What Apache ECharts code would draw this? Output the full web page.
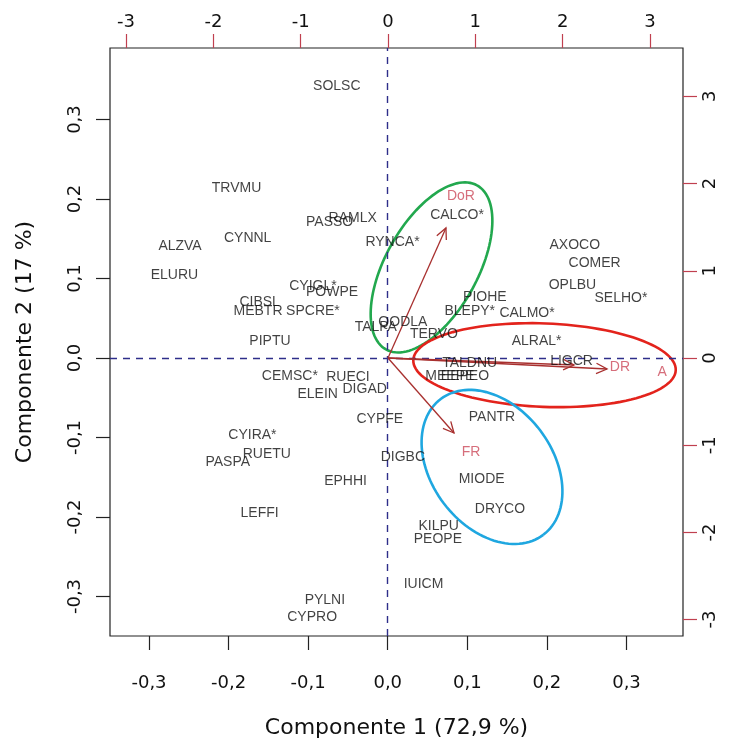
<!DOCTYPE html>
<html>
<head>
<meta charset="utf-8">
<script src="https://cdn.jsdelivr.net/npm/echarts@6/dist/echarts.min.js"></script>
<style>
html,body{margin:0;padding:0;background:#fff;}
#chart{width:736px;height:744px;}
</style>
</head>
<body>
<div id="chart"></div>
<script>
// ---- Scores (species), Componente 1 / Componente 2 ----
const scoreNames = ['SOLSC','TRVMU','PASSO','RAMLX','RYNCA*','CALCO*','ALZVA','CYNNL','ELURU','AXOCO','COMER','OPLBU','SELHO*','CYIGL*','POWPE','CIBSL','MEBTR','SPCRE*','TALPA','QODLA','TERVO','PIOHE','BLEPY*','CALMO*','ALRAL*','PIPTU','LIGCR','TALDNU','MEEPE','EEPEO','CEMSC*','RUECI','ELEIN','DIGAD','CYPFE','PANTR','CYIRA*','RUETU','PASPA','DIGBC','MIODE','EPHHI','DRYCO','LEFFI','KILPU','PEOPE','IUICM','PYLNI','CYPRO'];
const scoreX = [-0.064,-0.190,-0.073,-0.044,0.006,0.087,-0.261,-0.176,-0.268,0.235,0.260,0.232,0.293,-0.094,-0.070,-0.161,-0.163,-0.094,-0.015,0.019,0.058,0.122,0.103,0.175,0.187,-0.148,0.231,0.103,0.078,0.097,-0.123,-0.050,-0.088,-0.029,-0.010,0.131,-0.170,-0.152,-0.201,0.019,0.118,-0.053,0.141,-0.161,0.064,0.063,0.045,-0.079,-0.095];
const scoreY = [0.342,0.214,0.171,0.176,0.146,0.180,0.141,0.151,0.104,0.142,0.119,0.092,0.075,0.091,0.083,0.070,0.059,0.059,0.039,0.045,0.030,0.077,0.059,0.057,0.021,0.021,-0.004,-0.006,-0.023,-0.023,-0.023,-0.024,-0.045,-0.039,-0.077,-0.075,-0.097,-0.121,-0.131,-0.125,-0.153,-0.155,-0.190,-0.195,-0.211,-0.228,-0.284,-0.304,-0.326];

// ---- Variables (loadings) on top/right axes ----
const varNames = ['DoR','DR','A','FR'];
const varLabelU = [0.836, 2.657, 3.139, 0.951];
const varLabelV = [1.858, -0.103, -0.161, -1.078];
const arrowTipU = [0.664, 2.131, 2.509, 0.756];
const arrowTipV = [1.491, -0.080, -0.126, -0.860];

// ---- Tick labels ----
const compTicks = [-0.3,-0.2,-0.1,0,0.1,0.2,0.3];
const varTicks = [-3,-2,-1,0,1,2,3];

// ---- Group ellipses (data units of components): cx, cy, semi-major, semi-minor, angle deg ----
const ellipseNames = ['green','red','blue'];
const ellipseParams = [
  [0.055, 0.114, 0.118, 0.058, 61],
  [0.197, -0.009, 0.165, 0.0525, -2.2],
  [0.131, -0.137, 0.107, 0.076, -53]
];
const ellipseColors = ['#22a84e', '#e3231c', '#1fa7e0'];

const axisFont = 'DejaVu Sans';
const labelFont = 'Liberation Sans';
const fmtComma = v => (Math.abs(v) < 1e-9 ? '0,0' : v.toFixed(1).replace('.', ','));

const chart = echarts.init(document.getElementById('chart'), null, {renderer: 'canvas'});

const option = {
  animation: false,
  backgroundColor: '#ffffff',
  grid: {left: 110, right: 53, top: 48, bottom: 108, show: true, borderColor: '#222', borderWidth: 1.2, backgroundColor: 'transparent'},
  xAxis: [
    {
      type: 'value', position: 'bottom', min: -0.349, max: 0.371,
      splitLine: {show: false},
      axisLine: {show: false, onZero: false},
      axisTick: {show: true, inside: false, length: 14, customValues: compTicks, lineStyle: {color: '#222', width: 1.2}},
      axisLabel: {show: true, customValues: compTicks, formatter: fmtComma, margin: 38, fontFamily: axisFont, fontSize: 18, color: '#111'},
      name: 'Componente 1 (72,9 %)', nameLocation: 'middle', nameGap: 81,
      nameTextStyle: {fontFamily: axisFont, fontSize: 22, color: '#111'}
    },
    {
      type: 'value', position: 'top', min: -3.184, max: 3.379,
      splitLine: {show: false},
      axisLine: {show: false, onZero: false},
      axisTick: {show: true, inside: false, length: 14, customValues: varTicks, lineStyle: {color: '#c0404f', width: 1.2}},
      axisLabel: {show: true, customValues: varTicks, margin: 17, fontFamily: axisFont, fontSize: 18, color: '#111'}
    }
  ],
  yAxis: [
    {
      type: 'value', position: 'left', min: -0.3497, max: 0.390,
      splitLine: {show: false},
      axisLine: {show: false, onZero: false},
      axisTick: {show: true, inside: false, length: 14, customValues: compTicks, lineStyle: {color: '#222', width: 1.2}},
      axisLabel: {show: true, customValues: compTicks, formatter: fmtComma, rotate: 90, margin: 26, fontFamily: axisFont, fontSize: 18, color: '#111'},
      name: 'Componente 2 (17 %)', nameLocation: 'middle', nameGap: 74, nameRotate: 90,
      nameTextStyle: {fontFamily: axisFont, fontSize: 22, color: '#111'}
    },
    {
      type: 'value', position: 'right', min: -3.188, max: 3.555,
      splitLine: {show: false},
      axisLine: {show: false, onZero: false},
      axisTick: {show: true, inside: false, length: 14, customValues: varTicks, lineStyle: {color: '#c0404f', width: 1.2}},
      axisLabel: {show: true, customValues: varTicks, rotate: 90, margin: 18, fontFamily: axisFont, fontSize: 18, color: '#111'}
    }
  ],
  series: [
    {
      name: 'ellipses', type: 'custom', xAxisIndex: 0, yAxisIndex: 0, z: 4, silent: true,
      data: ellipseParams.map((p, i) => ({name: ellipseNames[i], value: p})),
      renderItem: function (params, api) {
        const cx = api.value(0), cy = api.value(1), a = api.value(2), b = api.value(3);
        const ang = api.value(4) * Math.PI / 180;
        const pts = [];
        for (let k = 0; k <= 120; k++) {
          const t = k / 120 * Math.PI * 2;
          const ex = a * Math.cos(t), ey = b * Math.sin(t);
          pts.push(api.coord([cx + ex * Math.cos(ang) - ey * Math.sin(ang), cy + ex * Math.sin(ang) + ey * Math.cos(ang)]));
        }
        return {type: 'polyline', shape: {points: pts}, style: {stroke: ellipseColors[params.dataIndex], lineWidth: 2.6, fill: null}};
      }
    },
    {
      name: 'arrows', type: 'custom', xAxisIndex: 1, yAxisIndex: 1, z: 5, silent: true,
      data: arrowTipU.map((u, i) => [u, arrowTipV[i]]),
      renderItem: function (params, api) {
        const o = api.coord([0, 0]);
        const t = api.coord([api.value(0), api.value(1)]);
        const ang = Math.atan2(t[1] - o[1], t[0] - o[0]);
        const L = 12, spread = 0.45;
        const h1 = [t[0] - L * Math.cos(ang - spread), t[1] - L * Math.sin(ang - spread)];
        const h2 = [t[0] - L * Math.cos(ang + spread), t[1] - L * Math.sin(ang + spread)];
        const st = {stroke: '#a8302f', lineWidth: 1.3};
        return {type: 'group', children: [
          {type: 'line', shape: {x1: o[0], y1: o[1], x2: t[0], y2: t[1]}, style: st},
          {type: 'polyline', shape: {points: [h1, t, h2]}, style: Object.assign({fill: null}, st)}
        ]};
      }
    },
    {
      name: 'scores', type: 'scatter', xAxisIndex: 0, yAxisIndex: 0, z: 6, symbolSize: 0,
      data: scoreNames.map((n, i) => ({name: n, value: [scoreX[i], scoreY[i]]})),
      label: {show: true, position: 'inside', formatter: p => p.name, fontFamily: labelFont, fontSize: 14, color: '#111'}
    },
    {
      name: 'variables', type: 'scatter', xAxisIndex: 1, yAxisIndex: 1, z: 6, symbolSize: 0,
      data: varNames.map((n, i) => ({name: n, value: [varLabelU[i], varLabelV[i]]})),
      label: {show: true, position: 'inside', formatter: p => p.name, fontFamily: labelFont, fontSize: 14, color: '#cc4a5a'}
    },
    {
      name: 'zero', type: 'scatter', xAxisIndex: 0, yAxisIndex: 0, z: 7, data: [], silent: true,
      markLine: {
        silent: true, symbol: 'none', label: {show: false},
        lineStyle: {color: '#2e2e8a', width: 1.4, type: [7, 6]},
        data: [{xAxis: 0}, {yAxis: 0}]
      }
    }
  ]
};
chart.setOption(option);
</script>
</body>
</html>
